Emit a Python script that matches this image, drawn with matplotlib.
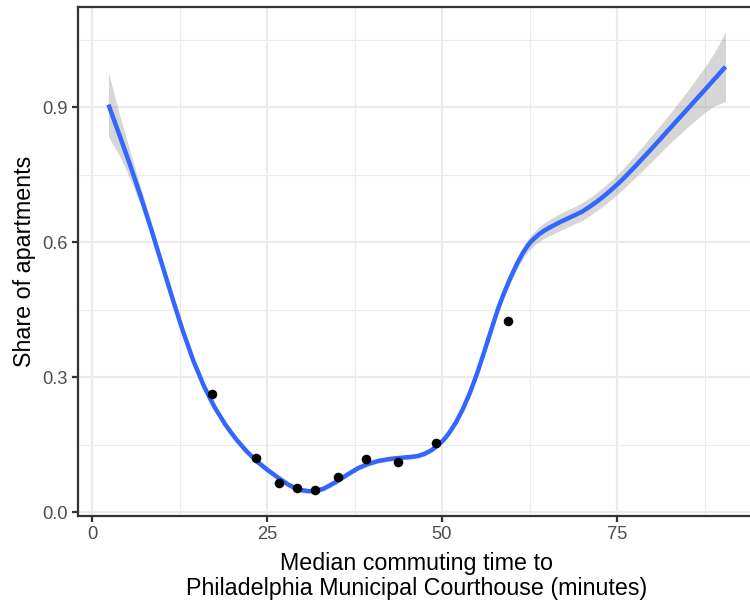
import matplotlib
matplotlib.use("Agg")
import matplotlib.pyplot as plt
from matplotlib.ticker import FixedLocator

# Observed neighbourhood values
commute_min = [17.19, 23.47, 26.67, 29.33, 31.86, 35.19, 39.14, 43.76, 49.14, 59.39]
share_apts = [0.262, 0.121, 0.066, 0.053, 0.049, 0.078, 0.118, 0.112, 0.155, 0.426]

# Smoothed fit (loess) and its confidence half-width
fit_x = [2.35, 4.0, 5.5, 7.0, 8.5, 10.0, 11.5, 13.0, 14.5, 16.0, 17.5, 19.0, 20.5,
         22.0, 23.5, 25.0, 26.5, 28.0, 29.0, 30.0, 31.0, 32.0, 33.0, 34.0, 35.0,
         36.5, 38.0, 39.5, 41.0, 42.5, 44.0, 45.5, 46.5, 47.5, 48.5, 49.5, 50.3,
         51.0, 52.0, 53.0, 54.0, 55.0, 56.0, 56.9, 58.0, 58.8, 59.8, 60.7, 61.5,
         62.3, 63.0, 63.8, 64.6, 65.4, 67.0, 68.8, 70.0, 71.0, 72.0, 73.0, 74.0,
         75.0, 76.0, 77.5, 80.0, 82.5, 85.0, 87.5, 89.0, 90.5]
fit_y = [0.906, 0.835, 0.769, 0.700, 0.627, 0.551, 0.475, 0.402, 0.336, 0.280,
         0.234, 0.196, 0.164, 0.137, 0.114, 0.095, 0.078, 0.062, 0.054, 0.049,
         0.047, 0.048, 0.052, 0.060, 0.069, 0.084, 0.098, 0.108, 0.1145, 0.1185,
         0.121, 0.123, 0.125, 0.130, 0.138, 0.150, 0.162, 0.176, 0.200, 0.230,
         0.266, 0.308, 0.355, 0.399, 0.452, 0.485, 0.522, 0.552, 0.575, 0.594,
         0.606, 0.617, 0.626, 0.633, 0.646, 0.659, 0.668, 0.678, 0.689, 0.701,
         0.714, 0.728, 0.743, 0.767, 0.809, 0.852, 0.895, 0.938, 0.964, 0.990]
fit_se = [0.071, 0.045, 0.030, 0.020, 0.014, 0.010, 0.008, 0.007, 0.006, 0.006,
          0.006, 0.006, 0.006, 0.006, 0.006, 0.006, 0.006, 0.006, 0.006, 0.006,
          0.005, 0.005, 0.005, 0.005, 0.005, 0.005, 0.005, 0.005, 0.005, 0.005,
          0.005, 0.005, 0.005, 0.005, 0.005, 0.005, 0.005, 0.006, 0.006, 0.006,
          0.006, 0.007, 0.007, 0.008, 0.009, 0.010, 0.011, 0.012, 0.013, 0.014,
          0.015, 0.016, 0.017, 0.018, 0.019, 0.019, 0.020, 0.020, 0.020, 0.021,
          0.021, 0.022, 0.023, 0.025, 0.029, 0.033, 0.040, 0.050, 0.060, 0.077]

x_ticks = [0, 25, 50, 75]
y_ticks = [0.0, 0.3, 0.6, 0.9]
y_tick_labels = ["0.0", "0.3", "0.6", "0.9"]

plt.rcParams["font.family"] = ["Liberation Sans", "DejaVu Sans"]

W, H, DPI = 750, 606, 150
fig = plt.figure(figsize=(W / DPI, H / DPI), dpi=DPI)
px_left, px_right, px_top, px_bottom = 77.65, 756.3, 7.3, 516.0
ax = fig.add_axes([px_left / W, 1 - px_bottom / H,
                   (px_right - px_left) / W, (px_bottom - px_top) / H])

ax.set_xlim(-2.05, 94.9)
ax.set_ylim(-0.0082, 1.1222)

grid_col = "#EBEBEB"
ax.xaxis.set_major_locator(FixedLocator(x_ticks))
ax.xaxis.set_minor_locator(FixedLocator([12.5, 37.5, 62.5, 87.5]))
ax.yaxis.set_major_locator(FixedLocator(y_ticks))
ax.yaxis.set_minor_locator(FixedLocator([0.15, 0.45, 0.75, 1.05]))
ax.set_yticklabels(y_tick_labels)
ax.grid(which="major", color=grid_col, linewidth=1.07)
ax.grid(which="minor", color=grid_col, linewidth=0.53)
ax.set_axisbelow(True)

lo = [y - s for y, s in zip(fit_y, fit_se)]
hi = [y + s for y, s in zip(fit_y, fit_se)]
ax.fill_between(fit_x, lo, hi, color="#999999", alpha=0.4, linewidth=0, zorder=2)
ax.plot(fit_x, fit_y, color="#3366FF", linewidth=2.13, solid_capstyle="butt",
        solid_joinstyle="round", zorder=3)
ax.plot(commute_min, share_apts, linestyle="none", marker="o", markersize=4.6,
        markerfacecolor="black", markeredgewidth=0, zorder=4)

for sp in ax.spines.values():
    sp.set_color("#333333")
    sp.set_linewidth(1.07)

ax.tick_params(which="major", length=2.75, width=1.07, color="#333333",
               labelcolor="#4D4D4D", labelsize=8.8, pad=2.2)
ax.tick_params(which="minor", length=0)

ax.set_xlabel("Median commuting time to\nPhiladelphia Municipal Courthouse (minutes)",
              fontsize=11.2, color="black", linespacing=1.1, labelpad=4.2)
ax.set_ylabel("Share of apartments", fontsize=11.2, color="black", labelpad=2.75)

fig.savefig("out.png", dpi=DPI)
